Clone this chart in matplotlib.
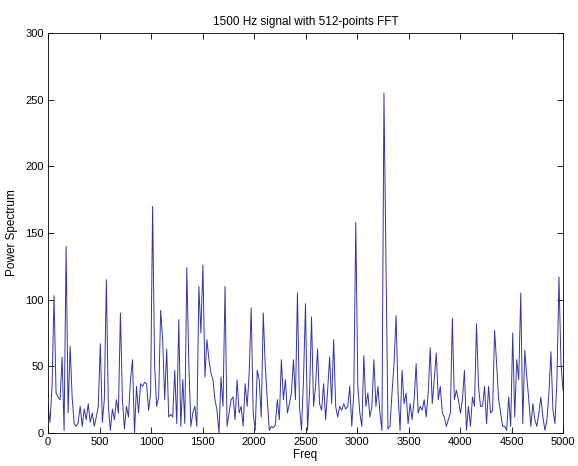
import numpy as np
import matplotlib
matplotlib.use("Agg")
import matplotlib.pyplot as plt

fs = 10000
nfft = 512
power = [
    20, 8, 35, 103, 30, 27, 25, 57, 2, 140,
    15, 65, 27, 7, 5, 8, 20, 5, 18, 10,
    22, 8, 15, 5, 12, 20, 67, 8, 25, 115,
    20, 2, 18, 10, 25, 15, 90, 25, 3, 20,
    12, 40, 55, 0, 35, 15, 37, 35, 38, 37,
    17, 30, 170, 50, 20, 27, 92, 70, 25, 63,
    12, 14, 12, 47, 7, 85, 5, 40, 7, 124,
    52, 5, 15, 20, 5, 110, 75, 126, 42, 70,
    55, 45, 40, 25, 17, 0, 42, 20, 110, 5,
    15, 25, 27, 10, 40, 15, 20, 5, 37, 20,
    45, 94, 15, 2, 47, 40, 12, 90, 50, 25,
    2, 5, 4, 6, 25, 10, 55, 25, 40, 15,
    22, 30, 55, 25, 105, 20, 2, 40, 97, 2,
    30, 87, 20, 35, 63, 22, 17, 37, 10, 32,
    57, 22, 70, 20, 12, 20, 17, 22, 18, 20,
    35, 5, 30, 158, 35, 15, 5, 58, 20, 30,
    12, 20, 55, 20, 35, 15, 2, 255, 128, 3,
    5, 30, 52, 88, 30, 2, 47, 22, 30, 7,
    22, 10, 25, 52, 15, 20, 17, 25, 12, 30,
    64, 22, 40, 60, 25, 35, 15, 12, 5, 10,
    15, 86, 25, 32, 25, 15, 25, 47, 2, 20,
    5, 27, 20, 82, 35, 20, 20, 35, 7, 35,
    15, 17, 77, 52, 25, 15, 5, 5, 2, 27,
    5, 75, 12, 55, 40, 105, 7, 62, 42, 25,
    5, 22, 10, 5, 15, 27, 12, 2, 10, 30,
    61, 17, 7, 40, 117, 52, 32,
]
freq = np.arange(len(power)) * fs / nfft
xticks = list(range(0, 5001, 500))
yticks = list(range(0, 301, 50))

plt.rcParams['font.family'] = ['Liberation Sans', 'DejaVu Sans']
fig = plt.figure(figsize=(5.78, 4.66), dpi=100)
ax = fig.add_axes([48/578, 33/466, 515/578, 400/466])
ax.plot(freq, power, color='#3535a0', linewidth=0.7)
ax.set_xlim(0, 5000)
ax.set_ylim(0, 300)
ax.set_xticks(xticks)
ax.set_yticks(yticks)
ax.tick_params(direction='in', top=True, right=True, labelsize=8, length=4, width=0.6, pad=3)
for s in ax.spines.values():
    s.set_linewidth(0.6)
ax.set_xlabel('Freq', fontsize=8.5, labelpad=1)
ax.set_ylabel('Power Spectrum', fontsize=8.5, labelpad=5)
ax.set_title('1500 Hz signal with 512-points FFT', fontsize=8.5, pad=6)
fig.savefig('out.png', dpi=100)
